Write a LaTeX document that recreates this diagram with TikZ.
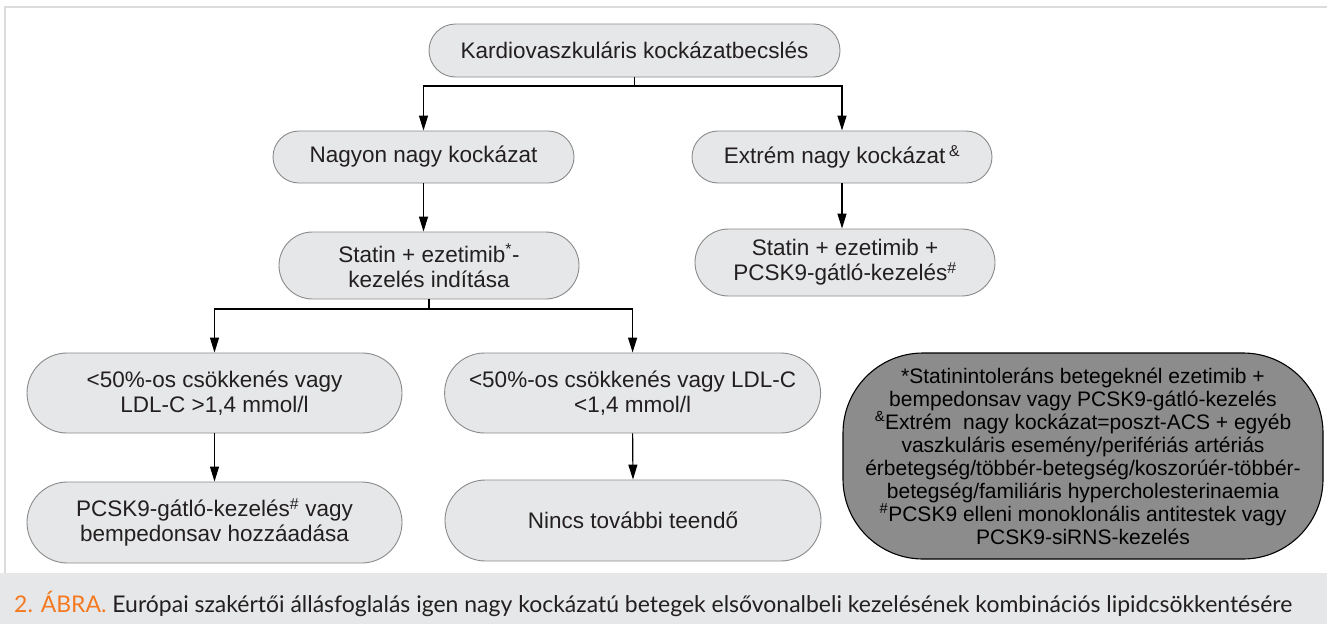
\documentclass[tikz,border=0pt]{standalone}
\usepackage{fontspec}
\usepackage{graphicx}
\setmainfont{Liberation Sans}
\newfontfamily\capfont{Lato}
\usetikzlibrary{arrows.meta,shapes.misc}
\definecolor{boxfill}{HTML}{E6E7E8}
\definecolor{boxline}{HTML}{8A8A8A}
\definecolor{darkfill}{HTML}{8C8C8C}
\definecolor{frameline}{HTML}{DCDCDC}
\definecolor{capband}{HTML}{E6E7E8}
\definecolor{caporange}{HTML}{F47920}
\definecolor{inkdark}{HTML}{231F20}
\begin{document}
\begin{tikzpicture}[x=1pt,y=-1pt,
  lightbox/.style={rounded rectangle, draw=boxline, line width=0.9pt, fill=boxfill,
    inner sep=0pt, align=center, text=inkdark,
    font=\fontsize{22.5}{25}\selectfont},
  darkbox/.style={rectangle, rounded corners=80pt, draw=black, line width=1.1pt, fill=darkfill,
    inner sep=0pt, align=center, text=black,
    font=\fontsize{21}{23}\selectfont},
  arr/.style={draw=black, line width=1.2pt, -{Triangle[length=15pt,width=9pt]}},
  ln/.style={draw=black, line width=1.2pt}]
\useasboundingbox (0,0) rectangle (1327,624);
\fill[white] (0,0) rectangle (1327,624);
% frame and caption band
\draw[frameline, line width=1.2pt] (1330,7) -- (5,7) -- (5,573);
\fill[capband] (0,573) rectangle (1327,624);
\node[anchor=base west, inner sep=0pt, text=inkdark] (cap) at (14,612)
  {\resizebox{1278pt}{\height}{\capfont\fontsize{23}{26}\selectfont\textcolor{caporange}{2. ÁBRA.} Európai szakértői állásfoglalás igen nagy kockázatú betegek elsővonalbeli kezelésének kombinációs lipidcsökkentésére}};
% nodes
\node[lightbox, minimum width=411pt, minimum height=53pt] (top) at (634.5,50.5) {Kardiovaszkuláris kockázatbecslés};
\node[lightbox, minimum width=301pt, minimum height=52pt] (nn) at (423.5,157) {Nagyon nagy kockázat};
\node[lightbox, minimum width=300pt, minimum height=52pt] (ex) at (842,157) {Extrém nagy kockázat\,\textsuperscript{\&}};
\node[lightbox, minimum width=300pt, minimum height=67pt] (st1) at (429,265.5) {Statin + ezetimib\textsuperscript{*}-\\kezelés indítása};
\node[lightbox, minimum width=300pt, minimum height=67pt] (st2) at (845,262.5) {Statin + ezetimib +\\PCSK9-gátló-kezelés\textsuperscript{\#}};
\node[lightbox, minimum width=375pt, minimum height=80pt] (r3a) at (214.5,393) {<50\%-os csökkenés vagy\\LDL-C >1,4 mmol/l};
\node[lightbox, minimum width=376pt, minimum height=80pt] (r3b) at (632.6,393) {<50\%-os csökkenés vagy LDL-C\\<1,4 mmol/l};
\node[lightbox, minimum width=375pt, minimum height=81pt] (r4a) at (214.5,522.5) {PCSK9-gátló-kezelés\textsuperscript{\#} vagy\\bempedonsav hozzáadása};
\node[lightbox, minimum width=376pt, minimum height=81pt] (r4b) at (633,520.5) {Nincs további teendő};
\node[darkbox, minimum width=480pt, minimum height=206pt] (dk) at (1083,456)
 {*Statinintoleráns betegeknél ezetimib +\\
  bempedonsav vagy PCSK9-gátló-kezelés\\
  \textsuperscript{\&}Extrém\ \ nagy kockázat=poszt-ACS + egyéb\\
  vaszkuláris esemény/perifériás artériás\\
  érbetegség/többér-betegség/koszorúér-többér-\\
  betegség/familiáris hypercholesterinaemia\\
  \textsuperscript{\#}PCSK9 elleni monoklonális antitestek vagy\\
  PCSK9-siRNS-kezelés};
% connectors
\coordinate (j1) at (634.5,86);
\draw[ln] (top.south) -- (j1);
\draw[arr] (j1) -| (nn.north);
\draw[arr] (j1) -| (ex.north);
\draw[arr] (nn.south) -- (st1.north -| nn.south);
\draw[arr] (ex.south) -- (st2.north -| ex.south);
\coordinate (j2) at (429,309);
\draw[ln] (st1.south) -- (j2);
\draw[arr] (j2) -| (r3a.north);
\draw[arr] (j2) -| (r3b.north);
\draw[arr] (r3a.south) -- (r4a.north);
\draw[arr] (r3b.south) -- (r4b.north);
\end{tikzpicture}
\end{document}
